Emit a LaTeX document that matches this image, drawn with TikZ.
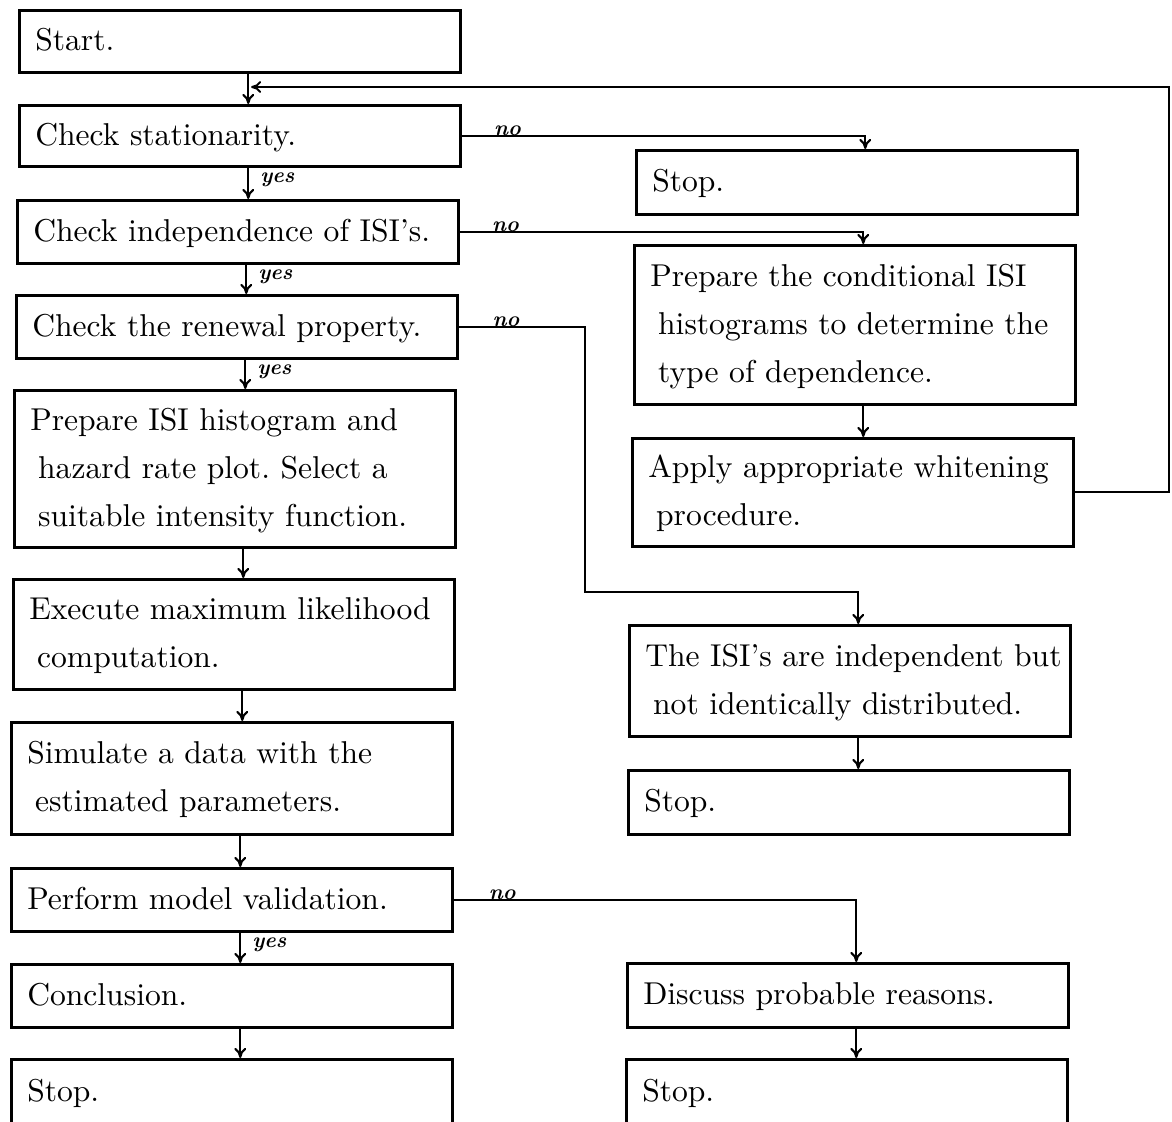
\documentclass[tikz,border=0pt]{standalone}
\usepackage{fontspec}
\usetikzlibrary{arrows.meta}
\frenchspacing
\newcommand\boxlines[1]{\begin{tabular}{@{}l@{}}#1\end{tabular}}
\newcommand\lineind{\hspace{2.5pt}}
\begin{document}
\begin{tikzpicture}[x=0.3165pt, y=-0.3165pt,
  box/.style={draw, line width=0.8pt, anchor=north west, inner xsep=5.06pt, inner ysep=0pt,
    text width=129.45pt, align=left, font=\fontsize{10}{15.19}\selectfont},
  conn/.style={line width=0.65pt},
  arr/.style={conn, -{To[length=3.2pt,width=3.8pt]}},
  yes/.style={anchor=west, inner sep=0pt, xshift=3.5pt, font=\fontsize{6.8}{7.5}\selectfont\bfseries\itshape},
  no/.style={anchor=south west, inner sep=0pt, yshift=-0.3pt, font=\fontsize{6.8}{7.5}\selectfont\bfseries\itshape},
  off/.style={xshift=2.69pt}]
\useasboundingbox (0,0) rectangle (1172,1121);
\clip (0,0) rectangle (1172,1121);

% left column
\node[box, minimum height=19.62pt] (start) at (18,9) {\boxlines{Start.}};
\node[box, minimum height=19.31pt] (stat) at (18,104) {\boxlines{Check stationarity.}};
\node[box, minimum height=19.94pt] (indep) at (16,199) {\boxlines{Check independence of ISI's.}};
\node[box, minimum height=19.94pt] (renew) at (15,294) {\boxlines{Check the renewal property.}};
\node[box, minimum height=49.69pt] (hist) at (13,389) {\boxlines{Prepare ISI histogram and\\\lineind hazard rate plot. Select a\\\lineind suitable intensity function.}};
\node[box, minimum height=34.82pt] (mle) at (12,578) {\boxlines{Execute maximum likelihood\\\lineind computation.}};
\node[box, minimum height=35.45pt] (sim) at (10,721) {\boxlines{Simulate a data with the\\\lineind estimated parameters.}};
\node[box, minimum height=19.94pt] (valid) at (10,867) {\boxlines{Perform model validation.}};
\node[box, minimum height=19.94pt] (concl) at (10,963) {\boxlines{Conclusion.}};
\node[box, minimum height=20.89pt] (stopL) at (10,1058) {\boxlines{Stop.}};

% right column
\node[box, minimum height=20.26pt] (stop1) at (635,149) {\boxlines{Stop.}};
\node[box, minimum height=50.32pt] (cond) at (633,244) {\boxlines{Prepare the conditional ISI\\\lineind histograms to determine the\\\lineind type of dependence.}};
\node[box, minimum height=34.18pt] (whiten) at (631,437) {\boxlines{Apply appropriate whitening\\\lineind procedure.}};
\node[box, minimum height=35.13pt] (indnot) at (628,624) {\boxlines{The ISI's are independent but\\\lineind not identically distributed.}};
\node[box, minimum height=20.26pt] (stop2) at (627,769) {\boxlines{Stop.}};
\node[box, minimum height=20.26pt] (discuss) at (626,962) {\boxlines{Discuss probable reasons.}};
\node[box, minimum height=20.89pt] (stop3) at (625,1058) {\boxlines{Stop.}};

% vertical flow, left column
\draw[arr] ([off]start.south) -- ([off]start.south |- stat.north);
\draw[arr] ([off]stat.south) -- ([off]stat.south |- indep.north) node[yes, pos=0.4] (y1) {yes};
\draw[arr] ([off]indep.south) -- ([off]indep.south |- renew.north) node[yes, pos=0.4] (y2) {yes};
\draw[arr] ([off]renew.south) -- ([off]renew.south |- hist.north) node[yes, pos=0.4] (y3) {yes};
\draw[arr] ([off]hist.south) -- ([off]hist.south |- mle.north);
\draw[arr] ([off]mle.south) -- ([off]mle.south |- sim.north);
\draw[arr] ([off]sim.south) -- ([off]sim.south |- valid.north);
\draw[arr] ([off]valid.south) -- ([off]valid.south |- concl.north) node[yes, pos=0.4] (y4) {yes};
\draw[arr] ([off]concl.south) -- ([off]concl.south |- stopL.north);

% vertical flow, right column
\draw[arr] ([off]cond.south) -- ([off]cond.south |- whiten.north);
\draw[arr] ([off]indnot.south) -- ([off]indnot.south |- stop2.north);
\draw[arr] ([off]discuss.south) -- ([off]discuss.south |- stop3.north);

% "no" branches
\draw[arr] (stat.east) -| ([off]stop1.north);
\node[no] (n1) at ([xshift=10.1pt]stat.east) {no};
\draw[arr] (indep.east) -| ([off]cond.north);
\node[no] (n2) at ([xshift=10.1pt]indep.east) {no};
\coordinate (rturn) at (585,592);
\draw[arr] (renew.east) -| (rturn) -| ([off]indnot.north);
\node[no] (n3) at ([xshift=10.6pt]renew.east) {no};
\draw[arr] (valid.east) -| ([off]discuss.north);
\node[no] (n4) at ([xshift=11pt]valid.east) {no};

% loop back after whitening
\coordinate (loopR) at (1169,87);
\draw[arr] (whiten.east) -| (loopR) -- ([xshift=3.6pt]start.south |- loopR);
\end{tikzpicture}
\end{document}
